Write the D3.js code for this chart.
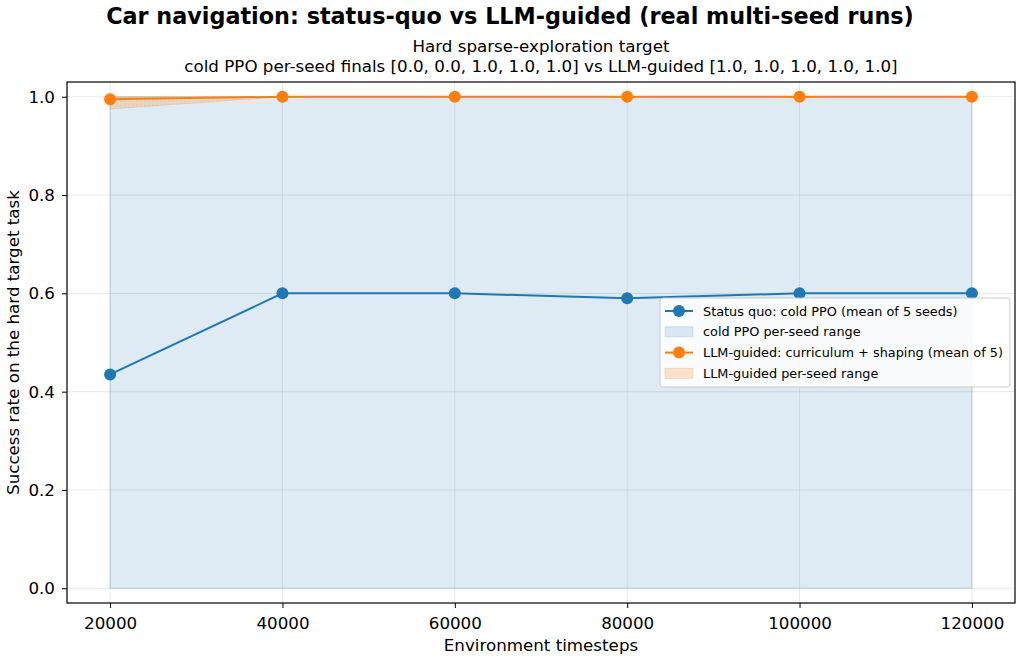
<!DOCTYPE html>
<html>
<head>
<meta charset="utf-8">
<script src="https://cdn.jsdelivr.net/npm/d3@7"></script>
<style>
  body { margin: 0; background: #fff; }
  svg { font-family: "DejaVu Sans", sans-serif; }
</style>
</head>
<body>
<svg id="chart" width="1020" height="660"></svg>
<script>
// data
var steps = [20000, 40000, 60000, 80000, 100000, 120000];
var coldMean = [0.435, 0.6, 0.6, 0.59, 0.6, 0.6];
var coldMin = [0, 0, 0, 0, 0, 0];
var coldMax = [1, 1, 1, 1, 1, 1];
var llmMean = [0.995, 1, 1, 1, 1, 1];
var llmMin = [0.975, 1, 1, 1, 1, 1];
var llmMax = [1, 1, 1, 1, 1, 1];
var xTicks = [20000, 40000, 60000, 80000, 100000, 120000];
var yTicks = [0, 0.2, 0.4, 0.6, 0.8, 1.0];
var legendLabels = [
    "Status quo: cold PPO (mean of 5 seeds)",
    "cold PPO per-seed range",
    "LLM-guided: curriculum + shaping (mean of 5)",
    "LLM-guided per-seed range"
];

var BLUE = "#1f77b4", ORANGE = "#ff7f0e";
var plotL = 67, plotR = 1015, plotT = 82, plotB = 603;
var FS = 16.7;

var svg = d3.select("#chart");
var x = d3.scaleLinear().domain([15000, 125000]).range([plotL, plotR]);
var y = d3.scaleLinear().domain([-0.03, 1.03]).range([plotB, plotT]);

var defs = svg.append("defs");
var pat = defs.append("pattern").attr("id", "dots")
    .attr("patternUnits", "userSpaceOnUse").attr("width", 4).attr("height", 4);
pat.append("circle").attr("cx", 1).attr("cy", 1).attr("r", 0.6)
    .attr("fill", ORANGE).attr("fill-opacity", 0.35);

// grid
var g = svg.append("g");
g.selectAll(".gx").data(xTicks).enter().append("line")
    .attr("x1", function (d) { return x(d); }).attr("x2", function (d) { return x(d); })
    .attr("y1", plotT).attr("y2", plotB)
    .attr("stroke", "#b0b0b0").attr("stroke-opacity", 0.35).attr("stroke-width", 0.8);
g.selectAll(".gy").data(yTicks).enter().append("line")
    .attr("y1", function (d) { return y(d); }).attr("y2", function (d) { return y(d); })
    .attr("x1", plotL).attr("x2", plotR)
    .attr("stroke", "#b0b0b0").attr("stroke-opacity", 0.35).attr("stroke-width", 0.8);

// bands
function band(lo, hi) {
    return d3.area()
        .x(function (d, i) { return x(steps[i]); })
        .y0(function (d, i) { return y(lo[i]); })
        .y1(function (d, i) { return y(hi[i]); })(steps);
}
svg.append("path").attr("d", band(coldMin, coldMax))
    .attr("fill", BLUE).attr("fill-opacity", 0.15)
    .attr("stroke", BLUE).attr("stroke-opacity", 0.15).attr("stroke-width", 1.5);
svg.append("path").attr("d", band(llmMin, llmMax))
    .attr("fill", ORANGE).attr("fill-opacity", 0.2)
    .attr("stroke", ORANGE).attr("stroke-opacity", 0.2).attr("stroke-width", 1);
svg.append("path").attr("d", band(llmMin, llmMax)).attr("fill", "url(#dots)");

// mean lines
function meanLine(vals, color) {
    var line = d3.line()
        .x(function (d, i) { return x(steps[i]); })
        .y(function (d) { return y(d); });
    svg.append("path").attr("d", line(vals)).attr("fill", "none")
        .attr("stroke", color).attr("stroke-width", 2);
    svg.selectAll(null).data(vals).enter().append("circle")
        .attr("cx", function (d, i) { return x(steps[i]); })
        .attr("cy", function (d) { return y(d); })
        .attr("r", 6).attr("fill", color);
}
meanLine(coldMean, BLUE);
meanLine(llmMean, ORANGE);

// axes
var xAxis = svg.append("g").attr("transform", "translate(0," + plotB + ")")
    .call(d3.axisBottom(x).tickValues(xTicks).tickFormat(d3.format("d")).tickSize(5).tickPadding(9));
var yAxis = svg.append("g").attr("transform", "translate(" + plotL + ",0)")
    .call(d3.axisLeft(y).tickValues(yTicks).tickFormat(d3.format(".1f")).tickSize(5).tickPadding(7));
[xAxis, yAxis].forEach(function (a) {
    a.select(".domain").remove();
    a.selectAll("text").attr("font-size", FS).attr("fill", "#000")
        .attr("font-family", "DejaVu Sans");
    a.selectAll("line").attr("stroke", "#000");
});
svg.append("rect").attr("x", plotL).attr("y", plotT)
    .attr("width", plotR - plotL).attr("height", plotB - plotT)
    .attr("fill", "none").attr("stroke", "#000").attr("stroke-width", 1.2);

// titles
svg.append("text").attr("x", 510).attr("y", 24).attr("text-anchor", "middle")
    .attr("font-size", 22.3).attr("font-weight", "bold")
    .text("Car navigation: status-quo vs LLM-guided (real multi-seed runs)");
svg.append("text").attr("x", (plotL + plotR) / 2).attr("y", 52).attr("text-anchor", "middle")
    .attr("font-size", FS).text("Hard sparse-exploration target");
svg.append("text").attr("x", (plotL + plotR) / 2).attr("y", 72).attr("text-anchor", "middle")
    .attr("font-size", FS)
    .text("cold PPO per-seed finals [0.0, 0.0, 1.0, 1.0, 1.0] vs LLM-guided [1.0, 1.0, 1.0, 1.0, 1.0]");
svg.append("text").attr("x", (plotL + plotR) / 2).attr("y", 651).attr("text-anchor", "middle")
    .attr("font-size", FS).text("Environment timesteps");
svg.append("text").attr("transform", "translate(19," + ((plotT + plotB) / 2) + ") rotate(-90)")
    .attr("text-anchor", "middle").attr("font-size", FS)
    .text("Success rate on the hard target task");

// legend
var lg = svg.append("g").attr("transform", "translate(660,298)");
lg.append("rect").attr("width", 350).attr("height", 89).attr("rx", 3)
    .attr("fill", "#fff").attr("fill-opacity", 0.8)
    .attr("stroke", "#cccccc").attr("stroke-width", 1);
var kinds = [["line", BLUE], ["patch", BLUE], ["line", ORANGE], ["patch", ORANGE]];
legendLabels.forEach(function (lab, i) {
    var cy = 13 + i * 20.8;
    var k = kinds[i];
    if (k[0] === "line") {
        lg.append("line").attr("x1", 5).attr("x2", 33).attr("y1", cy).attr("y2", cy)
            .attr("stroke", k[1]).attr("stroke-width", 2);
        lg.append("circle").attr("cx", 19).attr("cy", cy).attr("r", 6).attr("fill", k[1]);
    } else {
        lg.append("rect").attr("x", 5).attr("y", cy - 5).attr("width", 28).attr("height", 10)
            .attr("fill", k[1]).attr("fill-opacity", k[1] === BLUE ? 0.15 : 0.2)
            .attr("stroke", k[1]).attr("stroke-opacity", k[1] === BLUE ? 0.15 : 0.2);
    }
    lg.append("text").attr("x", 43).attr("y", cy + 4.5).attr("font-size", 12.85).text(lab);
});
</script>
</body>
</html>
